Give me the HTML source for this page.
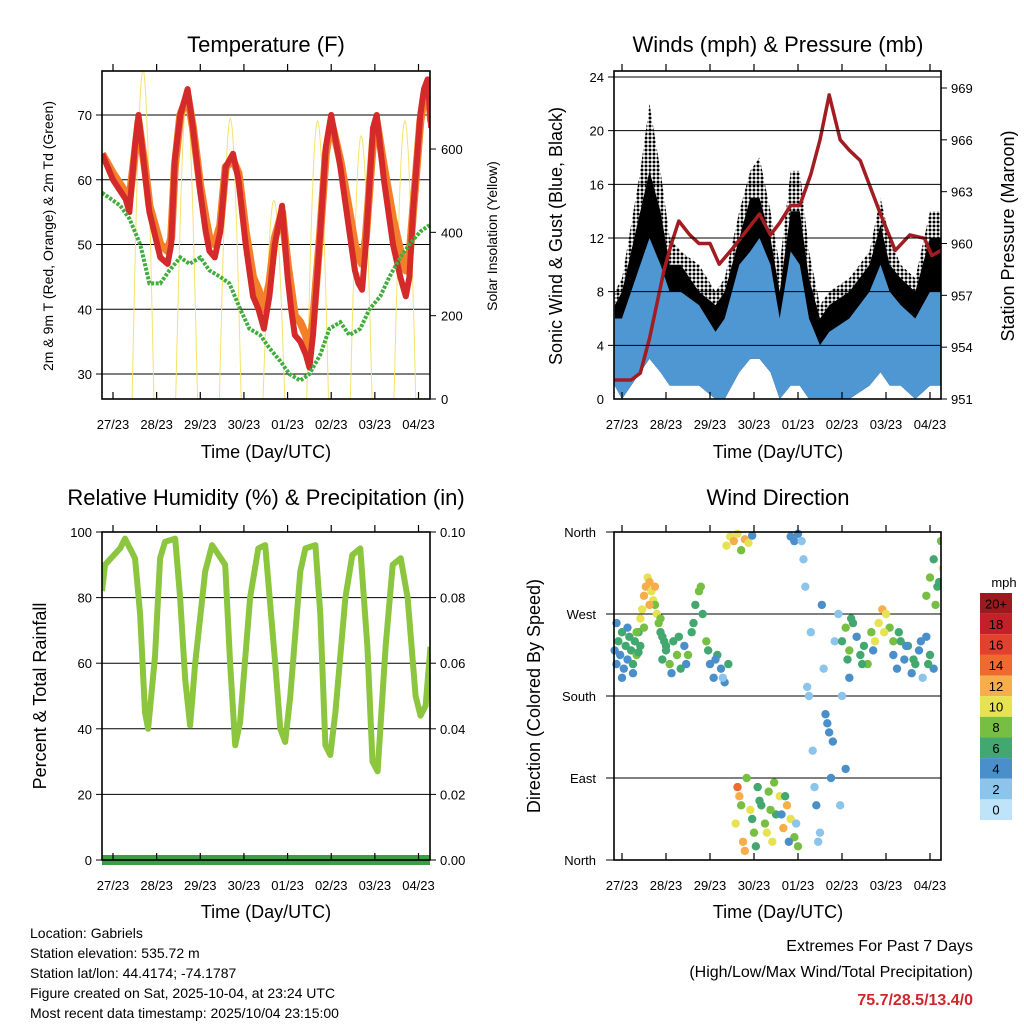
<!DOCTYPE html>
<html><head><meta charset="utf-8"><style>
html,body{margin:0;padding:0;background:#fff;}
svg{display:block;font-family:"Liberation Sans",sans-serif;}
</style></head><body>
<svg id="chart" width="1024" height="1024" viewBox="0 0 1024 1024" xmlns="http://www.w3.org/2000/svg">
<defs>
<pattern id="dots" width="4" height="4" patternUnits="userSpaceOnUse"><circle cx="2" cy="2" r="1.5" fill="#000"/></pattern>
</defs>
</svg>
<script>
// ---------- data ----------
const dayLabels = ["27/23","28/23","29/23","30/23","01/23","02/23","03/23","04/23"];
// temperature panel (hours since 27/23)
const tempHours = [-6,0,7,9,12,14,18,20,26,30,32,34,37,41,44,48,51,53,56,59,62,66,69,73,77,80,83,86,89,93,96,98,100,103,106,108,110,114,117,120,125,130,133,135,137,139,143,145,149,154,158,161,163,165,169,171,173,175];
const temp2m = [64,60,57,55,65,70,60,55,48,47,50,63,70,74,68,58,52,49,48,52,62,64,60,50,42,40,37,42,50,56,45,40,36,35,33,31,36,52,65,70,62,52,46,44,43,50,68,70,60,50,45,42,45,55,70,74,75.5,68];
const temp9m = [64,61,58,57,64,69,61,56,50,49,51,62,70,73,68,59,54,51,50,53,62,63,61,52,45,43,40,44,51,55,47,43,39,38,36,34,38,52,64,69,63,55,50,48,47,51,66,69,62,54,49,46,48,55,69,73,75,69];
const dewHours = [-6,4,9,15,20,26,31,37,42,48,53,59,64,70,75,81,86,92,97,103,108,114,119,125,130,136,141,147,152,158,163,169,174];
const dewpoint = [58,56,54,50,44,44,46,48,47,48,46,45,44,40,37,36,34,32,30,29,30,33,37,38,36,37,40,42,45,48,50,52,53];
const solarPeaks = [790,716,673,477,668,632,668];
// humidity
const rhHours = [-6,-4.4,3.9,6.6,12.1,14.9,17.6,19.3,23.1,25.9,28.6,34.2,36.9,39.7,42.4,45.2,50.7,54.5,61.7,64.4,67.2,69.9,75.4,79.9,83.7,89.2,92,94.7,97.5,103,105.8,111.3,114,116.8,119.5,122.3,127.8,131.6,136,139.9,142.7,145.5,149.9,153.8,158.2,162,166.4,169.1,171.9,174.6];
const rhValues = [82,90,95,98,92,75,45,40,62,92,97,98,80,55,41,60,88,96,90,60,35,42,80,95,96,60,40,36,50,88,95,96,75,35,32,45,80,93,95,65,30,27,65,90,92,80,50,44,47,65];
const precipTotal = 0;
// winds
const windHours = [-4,0,10,15,21,26,32,42,51,56,64,70,75,81,86,92,97,102,108,113,124,135,141,146,152,160,168,174];
const gustMax = [8,9,17,22,17,12,11,10,8,9,14,17,18,14,10,17,17,11,7,8,9,11,15,12,10,9,14,14];
const gustTypical = [7,8,14,17,14,10,10,8,7,8,12,15,15,12,8,14,14,9,6,7,8,10,13,10,9,8,12,12];
const windMax = [6,6,10,12,10,8,8,7,5,6,10,11,12,10,6,11,10,6,4,5,6,8,10,8,7,6,8,8];
const windMin = [1,0,2,3,2,1,1,1,0,0,2,3,3,2,0,1,1,0,0,0,0,1,2,1,1,0,1,1];
const presHours = [-4,5,10,15,20,23,27,31,37,42,48,53,61,75,81,86,92,97,103,108,113,119,124,130,136,141,149,157,165,169,174];
const pressure = [952.1,952.1,952.5,954.5,957,958.5,960,961.3,960.5,960,960,958.8,959.8,961.7,960.5,961.2,962.2,962.2,964,966,968.6,966,965.4,964.8,963.1,961.7,959.6,960.5,960.3,959.3,959.6];
// wind direction
const dirHours = [-4,-3,-2,-1,0,1,2,3,4,5,6,7,8,9,10,-3,0,3,6,9,
 8,10,11,12,13,14,15,16,17,18,19,20,21,22,23,24,12,15,18,21,
 22,24,26,28,30,32,34,36,38,40,42,44,46,48,50,52,54,56,58,27,31,35,39,43,47,51,55,
 57,59,61,63,65,67,69,71,
 62,64,66,68,70,72,74,76,78,80,82,84,86,88,90,92,94,96,63,67,71,75,79,83,87,91,95,65,73,81,89,
 92,94,96,
 98,100,102,104,106,108,110,112,114,116,118,120,122,124,99,103,107,111,115,119,123,101,105,109,113,
 120,122,124,126,128,130,132,134,136,138,140,142,144,146,148,125,131,137,143,
 148,150,152,154,156,158,160,162,164,166,168,170,151,155,159,163,167,
 166,168,170,172,174,175,171,173];
const dirDegrees = [230,215,240,225,250,210,235,220,245,230,205,240,225,250,235,260,200,255,215,228,
 250,265,275,290,300,310,305,295,285,280,270,260,250,245,240,235,255,280,300,265,
 220,230,215,240,225,210,235,225,250,280,295,270,240,215,200,225,210,195,215,205,245,215,260,300,230,220,200,
 345,355,350,358,340,352,348,356,
 40,70,20,90,55,30,80,60,40,75,20,50,70,35,60,45,25,15,80,10,45,65,30,85,50,20,40,60,15,55,70,
 355,350,358,
 350,300,180,120,60,30,210,150,90,240,270,180,100,200,330,250,20,160,130,60,220,190,80,280,140,
 240,255,230,260,245,225,235,215,250,240,260,275,270,255,240,265,215,230,250,
 225,210,240,220,235,205,215,230,200,245,225,210,250,235,220,240,215,
 290,310,330,300,350,320,280,305];
const dirSpeeds = [4,3,5,4,6,3,5,4,5,6,4,5,7,6,5,3,4,3,5,6,
 8,9,10,11,12,10,11,9,10,8,9,7,6,6,5,5,7,11,12,8,
 5,6,7,5,8,6,4,7,5,6,8,5,7,4,3,5,3,4,5,3,6,4,5,7,6,4,2,
 9,10,11,10,8,12,9,3,
 10,11,12,8,9,7,6,5,8,7,9,6,10,11,12,9,8,7,13,11,6,5,9,7,4,3,2,8,6,7,5,
 3,3,4,
 1,2,1,2,3,1,2,3,4,2,1,2,3,4,1,2,1,3,4,2,5,1,2,3,4,
 6,7,8,5,4,6,5,7,8,9,10,11,9,8,7,6,5,4,9,
 4,3,5,4,6,3,5,4,2,3,5,4,6,3,5,4,6,
 7,8,6,5,7,9,8,6];
const speedLabels = ["20+","18","16","14","12","10","8","6","4","2","0"];
const speedColors = ["#9b1a1e","#c3202a","#e2412e","#ef6a2e","#f6ae4b","#e6e252","#76bf43","#43a86f","#4a8fc9","#8cc4eb","#bde4f8"];

// ---------- helpers ----------
const svg = document.getElementById('chart');
const NS = "http://www.w3.org/2000/svg";
function el(tag, attrs, parent){ const e=document.createElementNS(NS,tag); for(const k in attrs) e.setAttribute(k,attrs[k]); (parent||svg).appendChild(e); return e; }
function txt(x,y,s,size,anchor,rot,parent){ const t=el('text',{x:x,y:y,'font-size':size,'text-anchor':anchor||'middle',fill:'#000'},parent); if(rot) t.setAttribute('transform','rotate(-90 '+x+' '+y+')'); t.textContent=s; return t; }
function lin(d0,d1,r0,r1){ return v=>r0+(v-d0)*(r1-r0)/(d1-d0); }
function pathD(xs,ys){ return xs.map((x,i)=>(i?'L':'M')+x.toFixed(1)+' '+ys[i].toFixed(1)).join(' '); }

function panelFrame(g,L,R,T,B,xOfHour){
  el('rect',{x:L,y:T,width:R-L,height:B-T,fill:'none',stroke:'#000','stroke-width':1.6},g);
  dayLabels.forEach((lab,i)=>{
    const x=xOfHour(i*24);
    el('line',{x1:x,y1:T,x2:x,y2:T-7,stroke:'#000','stroke-width':1.2},g);
    el('line',{x1:x,y1:B,x2:x,y2:B-7,stroke:'#000','stroke-width':1.2},g);
    const t=txt(x,B+30,lab,13,'middle',false,g);
    
    
  });
}

// ================= Temperature panel =================
(function(){
  const g=el('g',{});
  
  
  const L=102,R=430,T=71,B=399;
  const xh=lin(0,168,113,418.5), yT=lin(30,70,374,115), yS=lin(0,600,399,149);
  const cp=el('clipPath',{id:'cpT'},g); el('rect',{x:L,y:T,width:R-L,height:B-T},cp);
  [30,40,50,60,70].forEach(v=>{el('line',{x1:L-6,x2:R,y1:yT(v),y2:yT(v),stroke:'#000','stroke-width':1},g); txt(L-10,yT(v)+5,String(v),13,'end',false,g);});
  [0,200,400,600].forEach(v=>{el('line',{x1:R,x2:R+6,y1:yS(v),y2:yS(v),stroke:'#000','stroke-width':1},g); txt(R+11,yS(v)+5,String(v),13,'start',false,g);});
  const pg=el('g',{'clip-path':'url(#cpT)'},g);
  solarPeaks.forEach((p,d)=>{
    const xs=[],ys=[];
    for(let k=0;k<=24;k++){const h=d*24+10.5+k*0.5; xs.push(xh(h)); ys.push(yS(p*Math.sin(Math.PI*k/24)));}
    const s=el('path',{d:pathD(xs,ys),fill:'none',stroke:'#f7e26b','stroke-width':1},pg);
    
    
  });
  const o=el('path',{d:pathD(tempHours.map(xh),temp9m.map(yT)),fill:'none',stroke:'#f47f2a','stroke-width':8,'stroke-linejoin':'round'},pg);
  
  
  const r=el('path',{d:pathD(tempHours.map(xh),temp2m.map(yT)),fill:'none',stroke:'#d42a2a','stroke-width':6,'stroke-linejoin':'round'},pg);
  
  
  const d=el('path',{d:pathD(dewHours.map(xh),dewpoint.map(yT)),fill:'none',stroke:'#3fae3c','stroke-width':4,'stroke-dasharray':'3 1.5'},pg);
  
  
  panelFrame(g,L,R,T,B,xh);
  const t1=txt(266,52,'Temperature (F)',22,'middle',false,g);
   
  const a=txt(266,458,'Time (Day/UTC)',18,'middle',false,g);
   
  const y1=txt(53,236,'2m & 9m T (Red, Orange) & 2m Td (Green)',14,'middle',true,g);
   
  const y2=txt(497,236,'Solar Insolation (Yellow)',14,'middle',true,g);
   
})();

// ================= Winds panel =================
(function(){
  const g=el('g',{});
  
  
  const L=614,R=941,T=71,B=399;
  const xh=lin(0,168,622,930), yW=lin(0,24,399,77), yP=lin(951,969,399,88);
  const cp=el('clipPath',{id:'cpW'},g); el('rect',{x:L,y:T,width:R-L,height:B-T},cp);
  const pg=el('g',{'clip-path':'url(#cpW)'},g);
  const xs=windHours.map(xh);
  const sparse=el('path',{d:pathD(xs,gustMax.map(yW))+' '+pathD(xs.slice().reverse(),gustTypical.map(yW).reverse()).replace('M','L')+' Z',fill:'url(#dots)'},pg);
  
  
  const dense=el('path',{d:pathD(xs,gustTypical.map(yW))+' '+pathD(xs.slice().reverse(),windMin.map(yW).reverse()).replace('M','L')+' Z',fill:'#000'},pg);
  
  
  const blue=el('path',{d:pathD(xs,windMax.map(yW))+' '+pathD(xs.slice().reverse(),windMin.map(yW).reverse()).replace('M','L')+' Z',fill:'#4f97d2'},pg);
  
  
  [4,8,12,16,20,24].forEach(v=>el('line',{x1:L-6,x2:R,y1:yW(v),y2:yW(v),stroke:'#000','stroke-width':1},g));
  [0,4,8,12,16,20,24].forEach(v=>txt(L-10,yW(v)+5,String(v),13,'end',false,g));
  [951,954,957,960,963,966,969].forEach(v=>{el('line',{x1:R,x2:R+6,y1:yP(v),y2:yP(v),stroke:'#000'},g); txt(R+10,yP(v)+5,String(v),13,'start',false,g);});
  const p=el('path',{d:pathD(presHours.map(xh),pressure.map(yP)),fill:'none',stroke:'#a11d22','stroke-width':3.5,'stroke-linejoin':'round'},pg);
  
  
  panelFrame(g,L,R,T,B,xh);
  const t1=txt(778,52,'Winds (mph) & Pressure (mb)',22,'middle',false,g);
   
  const a=txt(778,458,'Time (Day/UTC)',18,'middle',false,g);
   
  const y1=txt(562,236,'Sonic Wind & Gust (Blue, Black)',18,'middle',true,g);
   
  const y2=txt(1014,236,'Station Pressure (Maroon)',18,'middle',true,g);
   
})();

// ================= Humidity panel =================
(function(){
  const g=el('g',{});
  
  
  const L=102,R=430,T=532,B=860;
  const xh=lin(0,168,113,418.5), yR=lin(0,100,860,532), yPr=lin(0,0.1,860,532);
  const cp=el('clipPath',{id:'cpR'},g); el('rect',{x:L,y:T,width:R-L,height:B-T},cp);
  [20,40,60,80].forEach(v=>el('line',{x1:L,x2:R,y1:yR(v),y2:yR(v),stroke:'#000','stroke-width':1},g));
  [0,20,40,60,80,100].forEach(v=>{el('line',{x1:L-6,x2:L,y1:yR(v),y2:yR(v),stroke:'#000'},g); txt(L-10,yR(v)+5,String(v),13,'end',false,g);});
  ['0.00','0.02','0.04','0.06','0.08','0.10'].forEach(s=>{const v=parseFloat(s); el('line',{x1:R,x2:R+6,y1:yPr(v),y2:yPr(v),stroke:'#000'},g); txt(R+10,yPr(v)+5,s,13,'start',false,g);});
  const pg=el('g',{'clip-path':'url(#cpR)'},g);
  const rh=el('path',{d:pathD(rhHours.map(xh),rhValues.map(yR)),fill:'none',stroke:'#8cc63f','stroke-width':6,'stroke-linejoin':'round'},pg);
  
  
  const pr=el('rect',{x:L,y:yPr(precipTotal)-5,width:R-L,height:10,fill:'#3b9e45'},g);
  
  
  panelFrame(g,L,R,T,B,xh);
  const t1=txt(266,505,'Relative Humidity (%) & Precipitation (in)',22,'middle',false,g);
   
  const a=txt(266,918,'Time (Day/UTC)',18,'middle',false,g);
   
  const y1=txt(46,696,'Percent & Total Rainfall',18,'middle',true,g);
   
})();

// ================= Wind direction panel =================
(function(){
  const g=el('g',{});
  
  
  const L=614,R=941,T=532,B=860;
  const xh=lin(0,168,622,930), yD=lin(0,360,860,532);
  const cp=el('clipPath',{id:'cpD'},g); el('rect',{x:L-4,y:T-4,width:R-L+4,height:B-T+8},cp);
  ['North','East','South','West','North'].forEach((s,i)=>{ const v=i*90; el('line',{x1:L-8,x2:R,y1:yD(v),y2:yD(v),stroke:'#000','stroke-width':1},g); txt(L-18,yD(v)+5,s,13,'end',false,g);});
  const pg=el('g',{'clip-path':'url(#cpD)'},g);
  function colorFor(s){ let idx=Math.round(s/2); if(idx>10) idx=10; return speedColors[10-idx]; }
  dirHours.forEach((h,i)=>{
    const c=el('circle',{cx:xh(h),cy:yD(dirDegrees[i]),r:4.2,fill:colorFor(dirSpeeds[i])},pg);
    
    
  });
  panelFrame(g,L,R,T,B,xh);
  const t1=txt(778,505,'Wind Direction',22,'middle',false,g);
   
  const a=txt(778,918,'Time (Day/UTC)',18,'middle',false,g);
   
  const y1=txt(540,696,'Direction (Colored By Speed)',18,'middle',true,g);
   
  const lg=el('g',{},g);
  
  
  txt(1004,587,'mph',13,'middle',false,lg);
  const bh=227/11;
  speedLabels.forEach((lab,i)=>{
    const r=el('rect',{x:980,y:593+i*bh,width:32,height:bh,fill:speedColors[i]},lg);
    
    
    txt(996,593+i*bh+bh/2+5,lab,13,'middle',false,lg);
  });
})();

// ================= Footer text =================
(function(){
  const g=el('g',{});
  
  
  ['Location: Gabriels','Station elevation: 535.72 m','Station lat/lon: 44.4174; -74.1787','Figure created on Sat, 2025-10-04, at 23:24 UTC','Most recent data timestamp: 2025/10/04 23:15:00'].forEach((s,i)=>txt(30,938+i*20,s,14,'start',false,g));
  const e=el('g',{});
  
  
  txt(973,951,'Extremes For Past 7 Days',16,'end',false,e);
  txt(973,977,'(High/Low/Max Wind/Total Precipitation)',16,'end',false,e);
  const v=txt(973,1005,'75.7/28.5/13.4/0',16,'end',false,e);
  v.setAttribute('fill','#d0262b'); v.setAttribute('font-weight','bold');
})();
</script>
</body></html>
